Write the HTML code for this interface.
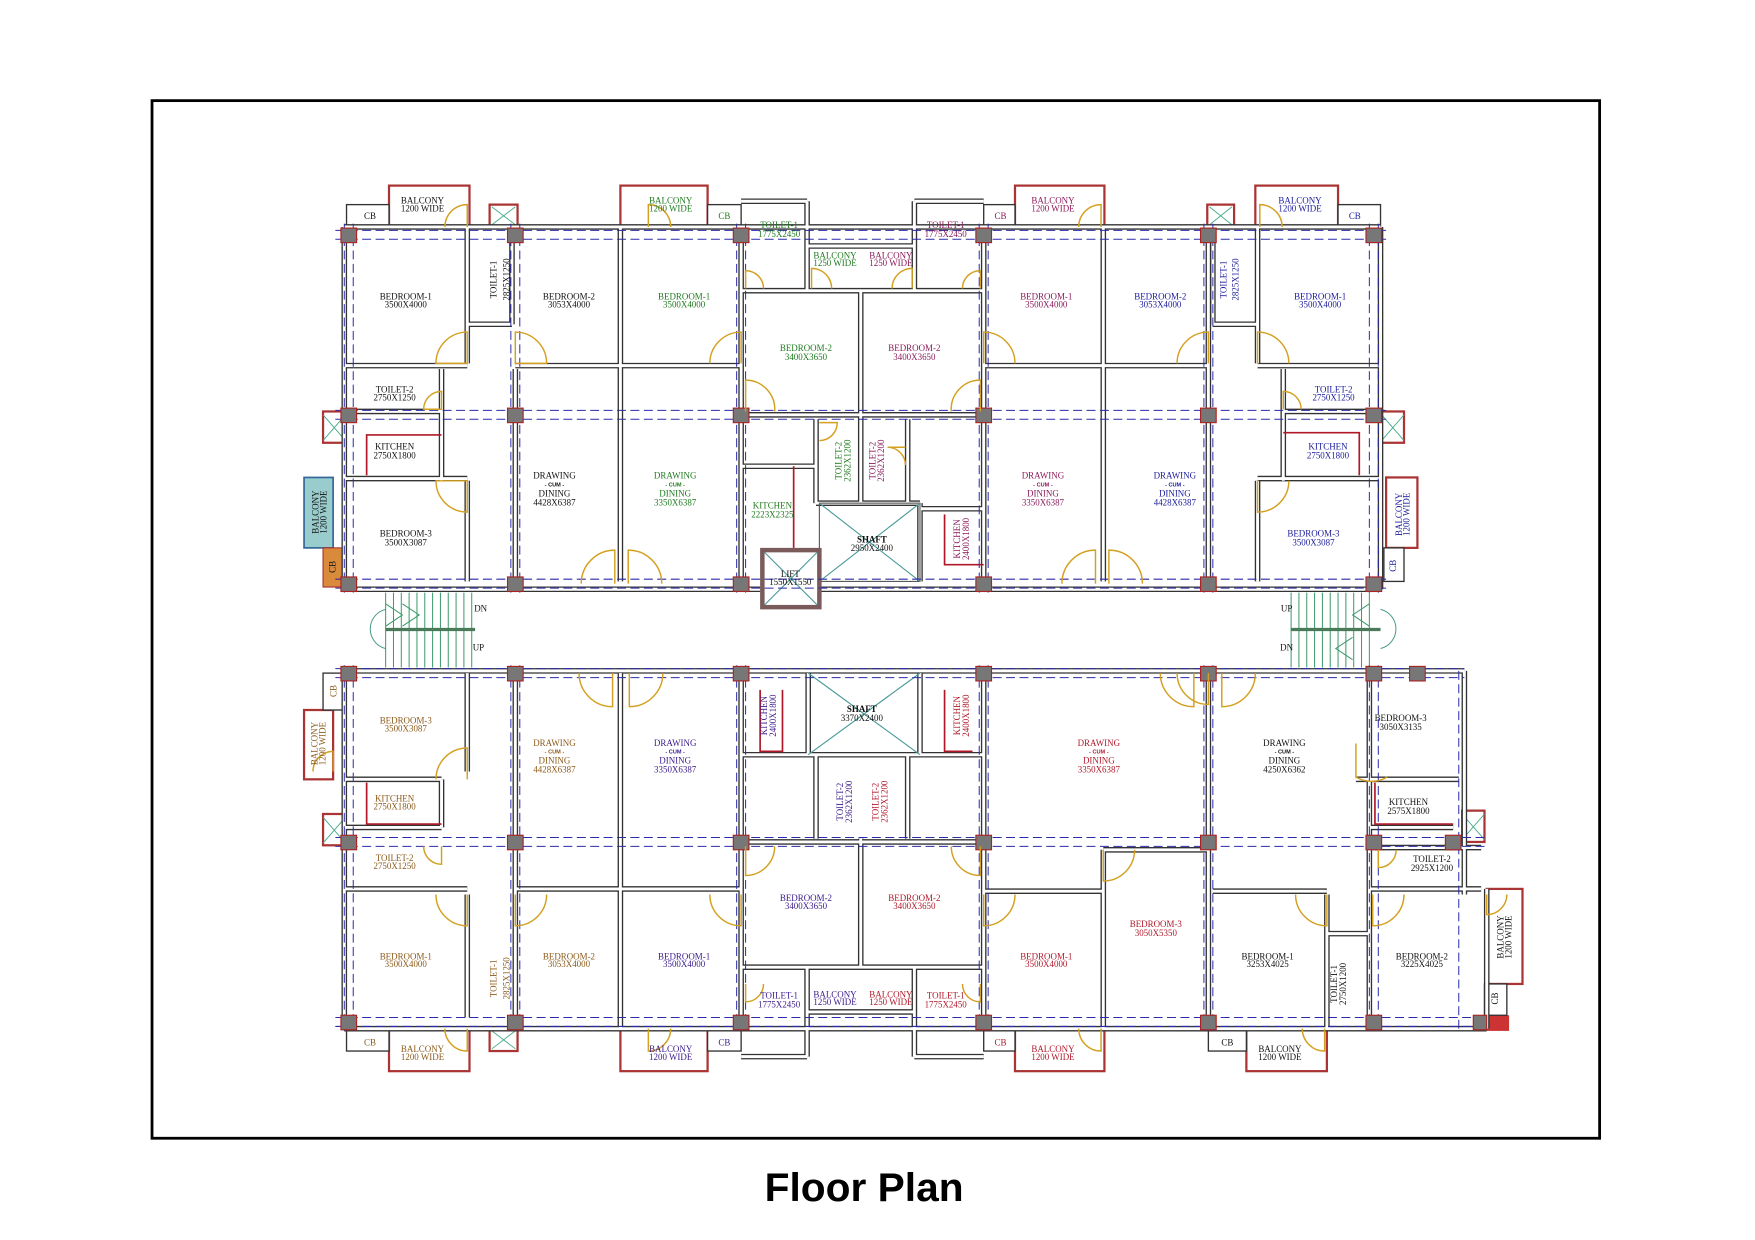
<!DOCTYPE html>
<html><head><meta charset="utf-8"><style>
html,body{margin:0;padding:0;background:#fff;width:1755px;height:1240px;overflow:hidden}
svg{display:block}
text{font-family:"Liberation Serif",serif;font-size:8px;text-anchor:middle}
.c{font-family:"Liberation Sans",sans-serif;font-size:5px;font-weight:bold}
.k{fill:#111}.g{fill:#1f7a1f}.p{fill:#8a1a5a}.b{fill:#1a1a9a}.o{fill:#8b5a1a}.v{fill:#3a1a8a}.r{fill:#b0182a}
</style></head><body>
<svg width="1755" height="1240" viewBox="0 0 1570 1109" preserveAspectRatio="none" xmlns="http://www.w3.org/2000/svg">
<defs>
<path id="w" d="M308 203H1235 M308 203V527 M1235 203V527 M308 527H680 M733 527H1235 M308 600H1310 M308 597V920 M308 920H1330 M1310 600V800 M1330 795V920
M418 203V325 M418 430V520 M458 203V290 M418 290H458 M461 330V527 M555 203V520 M663 203V527 M770 260V450 M880 203V527 M987 203V520 M1081 203V527 M1125 203V325 M1125 430V520 M1085 203V290 M1085 290H1125
M308 327H418 M461 327H663 M880 327H1081 M1125 327H1235 M308 368H395 M395 330V430 M308 428H418 M663 260H880 M722 180V260 M818 180V260 M663 180H722 M818 180H880 M722 220H818 M663 371H880 M730 375V450 M812 375V450 M730 450H823 M663 417H730 M823 450V520 M823 455H880 M1148 368H1235 M1148 330V430 M1125 428H1235
M418 602V690 M418 800V910 M461 602V920 M555 602V920 M663 602V920 M770 750V865 M880 602V920 M987 760V920 M1081 602V920 M1187 800V920 M1225 602V920 M308 697H395 M395 697V740 M308 740H395 M308 795H418 M461 795H663 M880 797H987 M987 760H1081 M1085 797H1187
M723 602V675 M823 602V675 M663 675H880 M730 675V750 M812 675V750 M663 753H880 M663 865H880 M722 865V945 M818 865V945 M722 905H818 M663 945H722 M818 945H880
M1213 697H1305 M1225 740H1300 M1230 758H1325 M1225 795H1325 M1187 835H1225"/>
</defs>
<rect x="136" y="90" width="1295" height="928" fill="none" stroke="#000" stroke-width="2.5"/>
<text x="773" y="1074" textLength="178" lengthAdjust="spacingAndGlyphs" style="font-family:'Liberation Sans',sans-serif;font-size:36px;font-weight:bold;fill:#000">Floor Plan</text>

<!-- balconies -->
<g fill="#fff" stroke="#a33" stroke-width="2">
<rect x="348" y="166" width="72" height="37"/><rect x="555" y="166" width="78" height="37"/><rect x="908" y="166" width="80" height="37"/><rect x="1123" y="166" width="74" height="37"/>
<rect x="348" y="920" width="72" height="38"/><rect x="555" y="920" width="78" height="38"/><rect x="908" y="920" width="80" height="38"/><rect x="1115" y="920" width="72" height="38"/>
<rect x="272" y="635" width="26" height="62"/><rect x="1330" y="795" width="32" height="85"/><rect x="1240" y="427" width="28" height="63"/>
<rect x="289" y="368" width="20" height="28"/><rect x="289" y="728" width="20" height="28"/><rect x="1236" y="368" width="20" height="28"/><rect x="1308" y="725" width="20" height="28"/>
<rect x="438" y="183" width="25" height="20"/><rect x="1080" y="183" width="24" height="20"/><rect x="438" y="920" width="25" height="20"/>
</g>
<rect x="272" y="427" width="26" height="63" fill="#9cc" stroke="#369" stroke-width="1.5"/>
<g stroke="#4a8" stroke-width="0.8"><path d="M289 371L309 394M309 371L289 394M289 731L309 754M309 731L289 754M1236 371L1256 394M1256 371L1236 394M1308 728L1328 751M1328 728L1308 751M440 185L461 201M461 185L440 201M1082 185L1102 201M1102 185L1082 201M440 922L461 938M461 922L440 938"/></g>
<rect x="289" y="490" width="20" height="35" fill="#d98a3a" stroke="#a33"/>
<rect x="1330" y="908" width="20" height="14" fill="#c33"/>
<g fill="#fff" stroke="#333" stroke-width="1.2">
<rect x="310" y="183" width="38" height="20"/><rect x="633" y="183" width="30" height="20"/><rect x="880" y="183" width="28" height="20"/><rect x="1197" y="183" width="38" height="20"/>
<rect x="310" y="920" width="38" height="20"/><rect x="633" y="920" width="30" height="20"/><rect x="880" y="920" width="28" height="20"/><rect x="1081" y="920" width="34" height="20"/>
<rect x="289" y="602" width="20" height="33"/><rect x="1238" y="490" width="18" height="30"/><rect x="1328" y="880" width="20" height="28"/>
</g>

<!-- walls double line -->
<use href="#w" fill="none" stroke="#333" stroke-width="5"/>
<use href="#w" fill="none" stroke="#fff" stroke-width="2.6"/>

<!-- shafts & lift -->
<rect x="733" y="450" width="90" height="70" fill="none" stroke="#555"/>
<path d="M733 450L823 520M823 450L733 520M723 602L823 675M823 602L723 675" stroke="#4a9a9a" stroke-width="1"/>
<rect x="682" y="492" width="51" height="51" fill="none" stroke="#7a5a5a" stroke-width="4"/>
<path d="M684 494L731 541M731 494L684 541" stroke="#4a9a9a"/>
<!-- kitchens red counters -->
<g fill="none" stroke="#b0182a" stroke-width="1.5">
<path d="M328 425V389H395"/><path d="M1216 425V387H1148"/><path d="M710 417V490"/><path d="M845 460V505H880"/>
<path d="M328 700V737H395"/><path d="M680 617V672H700V617"/><path d="M845 617V672H870"/><path d="M1230 700V737H1300"/>
</g>

<!-- stairs -->
<g stroke="#3a9a6a" stroke-width="0.9">
<path d="M345 530V597M352 530V597M359 530V597M366 530V597M373 530V597M380 530V597M387 530V597M394 530V597M401 530V597M408 530V597M415 530V597M422 530V597"/>
<path d="M1155 530V597M1162 530V597M1169 530V597M1176 530V597M1183 530V597M1190 530V597M1197 530V597M1204 530V597M1211 530V597M1218 530V597M1225 530V597"/>
<path d="M345 563H425M1155 563H1235" stroke-width="3" stroke="#4a7a5a"/>
<path d="M345 540L360 550L345 560M360 540L375 550L360 560M1225 540L1210 550L1225 560M1210 570L1195 580L1210 590" fill="none"/>
<path d="M345 545A18 18 0 0 0 345 580" fill="none" stroke="#4a9a8a"/>
<path d="M1235 545A18 18 0 0 1 1235 580" fill="none" stroke="#4a9a8a"/>
</g>

<!-- dashed grid -->
<g stroke="#2a2aaa" stroke-width="0.9" stroke-dasharray="8 4" fill="none">
<path d="M300 206H1240M300 214H1240M300 367H1240M300 375H1240M300 518H1240M300 526H1240M300 598H1310M300 606H1310M300 749H1330M300 757H1330M300 910H1330M300 918H1330"/>
<path d="M308 200V530M316 200V530M457 200V530M465 200V530M659 200V530M667 200V530M876 200V530M884 200V530M1077 200V530M1085 200V530M1225 200V530M1233 200V530"/>
<path d="M308 595V922M316 595V922M457 595V922M465 595V922M659 595V922M667 595V922M876 595V922M884 595V922M1077 595V922M1085 595V922M1225 595V922M1233 595V922M1305 600V920"/>
</g>

<!-- columns -->
<g fill="#777" stroke="#a22" stroke-width="1">
<rect x="305" y="204" width="14" height="13"/><rect x="454" y="204" width="14" height="13"/><rect x="656" y="204" width="14" height="13"/><rect x="873" y="204" width="14" height="13"/><rect x="1074" y="204" width="14" height="13"/><rect x="1222" y="204" width="14" height="13"/>
<rect x="305" y="365" width="14" height="13"/><rect x="454" y="365" width="14" height="13"/><rect x="656" y="365" width="14" height="13"/><rect x="873" y="365" width="14" height="13"/><rect x="1074" y="365" width="14" height="13"/><rect x="1222" y="365" width="14" height="13"/>
<rect x="305" y="516" width="14" height="13"/><rect x="454" y="516" width="14" height="13"/><rect x="656" y="516" width="14" height="13"/><rect x="873" y="516" width="14" height="13"/><rect x="1074" y="516" width="14" height="13"/><rect x="1222" y="516" width="14" height="13"/>
<rect x="305" y="596" width="14" height="13"/><rect x="454" y="596" width="14" height="13"/><rect x="656" y="596" width="14" height="13"/><rect x="873" y="596" width="14" height="13"/><rect x="1074" y="596" width="14" height="13"/><rect x="1222" y="596" width="14" height="13"/><rect x="1261" y="596" width="14" height="13"/>
<rect x="305" y="747" width="14" height="13"/><rect x="454" y="747" width="14" height="13"/><rect x="656" y="747" width="14" height="13"/><rect x="873" y="747" width="14" height="13"/><rect x="1074" y="747" width="14" height="13"/><rect x="1222" y="747" width="14" height="13"/><rect x="1293" y="747" width="14" height="13"/>
<rect x="305" y="908" width="14" height="13"/><rect x="454" y="908" width="14" height="13"/><rect x="656" y="908" width="14" height="13"/><rect x="873" y="908" width="14" height="13"/><rect x="1074" y="908" width="14" height="13"/><rect x="1222" y="908" width="14" height="13"/><rect x="1318" y="908" width="12" height="13"/>
</g>

<!-- doors -->
<g fill="none" stroke="#d4a020" stroke-width="1.3">
<path d="M418 325V297A28 28 0 0 0 390 325Z"/><path d="M461 325V297A28 28 0 0 1 489 325Z"/>
<path d="M395 366V350A16 16 0 0 0 379 366Z"/><path d="M418 430V458A28 28 0 0 1 390 430Z"/>
<path d="M550 522V492A30 30 0 0 0 520 522"/><path d="M562 522V492A30 30 0 0 1 592 522"/>
<path d="M663 325V297A28 28 0 0 0 635 325"/><path d="M667 258V242A16 16 0 0 1 683 258"/>
<path d="M667 368V340A26 26 0 0 1 693 368"/><path d="M726 258V240A18 18 0 0 1 744 258"/><path d="M816 258V240A18 18 0 0 0 798 258"/>
<path d="M877 368V340A26 26 0 0 0 851 368"/><path d="M880 325V297A28 28 0 0 1 908 325"/><path d="M877 258V242A16 16 0 0 0 861 258"/>
<path d="M980 522V492A30 30 0 0 0 950 522"/><path d="M992 522V492A30 30 0 0 1 1022 522"/>
<path d="M1081 325V297A28 28 0 0 0 1053 325"/><path d="M1125 325V297A28 28 0 0 1 1153 325"/>
<path d="M1148 366V350A16 16 0 0 1 1164 366"/><path d="M1125 430V458A28 28 0 0 0 1153 430"/>
<path d="M733 378H749A16 16 0 0 1 733 394"/><path d="M810 400H794A16 16 0 0 1 810 416"/>
<path d="M418 203V183A20 20 0 0 0 398 203"/><path d="M580 203V183A20 20 0 0 1 600 203"/><path d="M985 203V183A20 20 0 0 0 965 203"/><path d="M1127 203V183A20 20 0 0 1 1147 203"/>
<path d="M548 602V632A30 30 0 0 1 518 602"/><path d="M563 602V632A30 30 0 0 0 593 602"/>
<path d="M1068 602V632A30 30 0 0 1 1038 602"/><path d="M1093 602V632A30 30 0 0 0 1123 602"/>
<path d="M418 697V669A28 28 0 0 0 390 697"/><path d="M395 757V773A16 16 0 0 1 379 757"/>
<path d="M418 800V828A28 28 0 0 1 390 800"/><path d="M461 800V828A28 28 0 0 0 489 800"/><path d="M663 800V828A28 28 0 0 1 635 800"/>
<path d="M667 757V783A26 26 0 0 0 693 757"/><path d="M877 757V783A26 26 0 0 1 851 757"/>
<path d="M880 800V828A28 28 0 0 0 908 800"/><path d="M987 760V788A28 28 0 0 0 1015 760"/>
<path d="M1187 800V828A28 28 0 0 1 1159 800"/><path d="M1228 800V828A28 28 0 0 0 1256 800"/><path d="M1233 760V776A16 16 0 0 0 1249 760"/>
<path d="M1213 665V695A28 28 0 0 0 1241 695"/><path d="M1081 602V630A28 28 0 0 1 1053 602"/>
<path d="M418 920V940A20 20 0 0 1 398 920"/><path d="M580 920V940A20 20 0 0 0 600 920"/><path d="M985 920V940A20 20 0 0 1 965 920"/><path d="M1185 920V940A20 20 0 0 1 1165 920"/>
<path d="M667 880V896A16 16 0 0 0 683 880"/><path d="M877 880V896A16 16 0 0 1 861 880"/>
<path d="M298 690V672A18 18 0 0 0 280 690"/><path d="M1330 800V818A18 18 0 0 0 1348 800"/>
</g>

<!-- labels -->
<text class="k" x="378" y="182">BALCONY</text><text class="k" x="378" y="189">1200 WIDE</text><text class="k" x="331" y="196">CB</text>
<text class="k" transform="rotate(-90 444 250)" x="444" y="250">TOILET-1</text><text class="k" transform="rotate(-90 453 250)" x="453" y="253">2825X1250</text>
<text class="k" x="363" y="268">BEDROOM-1</text><text class="k" x="363" y="275">3500X4000</text>
<text class="k" x="509" y="268">BEDROOM-2</text><text class="k" x="509" y="275">3053X4000</text>
<text class="k" x="353" y="351">TOILET-2</text><text class="k" x="353" y="358">2750X1250</text>
<text class="k" x="353" y="402">KITCHEN</text><text class="k" x="353" y="410">2750X1800</text>
<text class="k" x="496" y="428">DRAWING</text><text class="k c" x="496" y="435">- CUM -</text><text class="k" x="496" y="444">DINING</text><text class="k" x="496" y="452">4428X6387</text>
<text class="k" x="363" y="480">BEDROOM-3</text><text class="k" x="363" y="488">3500X3087</text>
<text class="k" transform="rotate(-90 285 458)" x="285" y="458">BALCONY</text><text class="k" transform="rotate(-90 292 458)" x="292" y="458">1200 WIDE</text>
<text class="k" transform="rotate(-90 300 507)" x="300" y="507">CB</text>

<text class="g" x="600" y="182">BALCONY</text><text class="g" x="600" y="189">1200 WIDE</text><text class="g" x="648" y="196">CB</text>
<text class="g" x="612" y="268">BEDROOM-1</text><text class="g" x="612" y="275">3500X4000</text>
<text class="g" x="604" y="428">DRAWING</text><text class="g c" x="604" y="435">- CUM -</text><text class="g" x="604" y="444">DINING</text><text class="g" x="604" y="452">3350X6387</text>
<text class="g" x="697" y="204">TOILET-1</text><text class="g" x="697" y="212">1775X2450</text>
<text class="g" x="747" y="231">BALCONY</text><text class="g" x="747" y="238">1250 WIDE</text>
<text class="g" x="721" y="314">BEDROOM-2</text><text class="g" x="721" y="322">3400X3650</text>
<text class="g" transform="rotate(-90 753 412)" x="753" y="412">TOILET-2</text><text class="g" transform="rotate(-90 761 412)" x="761" y="412">2362X1200</text>
<text class="g" x="691" y="455">KITCHEN</text><text class="g" x="691" y="463">2223X2325</text>

<text class="p" x="797" y="231">BALCONY</text><text class="p" x="797" y="238">1250 WIDE</text>
<text class="p" x="846" y="204">TOILET-1</text><text class="p" x="846" y="212">1775X2450</text>
<text class="p" x="818" y="314">BEDROOM-2</text><text class="p" x="818" y="322">3400X3650</text>
<text class="p" transform="rotate(-90 783 412)" x="783" y="412">TOILET-2</text><text class="p" transform="rotate(-90 791 412)" x="791" y="412">2362X1200</text>
<text class="p" transform="rotate(-90 859 482)" x="859" y="482">KITCHEN</text><text class="p" transform="rotate(-90 867 482)" x="867" y="482">2400X1800</text>
<text class="p" x="895" y="196">CB</text><text class="p" x="942" y="182">BALCONY</text><text class="p" x="942" y="189">1200 WIDE</text>
<text class="p" x="936" y="268">BEDROOM-1</text><text class="p" x="936" y="275">3500X4000</text>
<text class="b" x="1038" y="268">BEDROOM-2</text><text class="b" x="1038" y="275">3053X4000</text>
<text class="p" x="933" y="428">DRAWING</text><text class="p c" x="933" y="435">- CUM -</text><text class="p" x="933" y="444">DINING</text><text class="p" x="933" y="452">3350X6387</text>
<text class="k" x="780" y="485" style="font-weight:bold">SHAFT</text><text class="k" x="780" y="493">2950X2400</text>
<text class="k" x="707" y="516">LIFT</text><text class="k" x="707" y="523">1550X1550</text>

<text class="b" x="1051" y="428">DRAWING</text><text class="b c" x="1051" y="435">- CUM -</text><text class="b" x="1051" y="444">DINING</text><text class="b" x="1051" y="452">4428X6387</text>
<text class="b" transform="rotate(-90 1097 250)" x="1097" y="250">TOILET-1</text><text class="b" transform="rotate(-90 1105 250)" x="1105" y="253">2825X1250</text>
<text class="b" x="1163" y="182">BALCONY</text><text class="b" x="1163" y="189">1200 WIDE</text><text class="b" x="1212" y="196">CB</text>
<text class="b" x="1181" y="268">BEDROOM-1</text><text class="b" x="1181" y="275">3500X4000</text>
<text class="b" x="1193" y="351">TOILET-2</text><text class="b" x="1193" y="358">2750X1250</text>
<text class="b" x="1188" y="402">KITCHEN</text><text class="b" x="1188" y="410">2750X1800</text>
<text class="b" x="1175" y="480">BEDROOM-3</text><text class="b" x="1175" y="488">3500X3087</text>
<text class="b" transform="rotate(-90 1254 460)" x="1254" y="460">BALCONY</text><text class="b" transform="rotate(-90 1261 460)" x="1261" y="460">1200 WIDE</text>
<text class="b" transform="rotate(-90 1249 506)" x="1249" y="506">CB</text>

<text class="k" x="430" y="547">DN</text><text class="k" x="428" y="582">UP</text><text class="k" x="1151" y="547">UP</text><text class="k" x="1151" y="582">DN</text>

<text class="o" transform="rotate(-90 301 618)" x="301" y="618">CB</text>
<text class="o" transform="rotate(-90 284 665)" x="284" y="665">BALCONY</text><text class="o" transform="rotate(-90 291 665)" x="291" y="665">1200 WIDE</text>
<text class="o" x="363" y="647">BEDROOM-3</text><text class="o" x="363" y="654">3500X3087</text>
<text class="o" x="353" y="717">KITCHEN</text><text class="o" x="353" y="724">2750X1800</text>
<text class="o" x="353" y="770">TOILET-2</text><text class="o" x="353" y="777">2750X1250</text>
<text class="o" x="363" y="858">BEDROOM-1</text><text class="o" x="363" y="865">3500X4000</text>
<text class="o" transform="rotate(-90 444 875)" x="444" y="875">TOILET-1</text><text class="o" transform="rotate(-90 453 875)" x="453" y="878">2825X1250</text>
<text class="o" x="331" y="935">CB</text><text class="o" x="378" y="941">BALCONY</text><text class="o" x="378" y="948">1200 WIDE</text>
<text class="o" x="509" y="858">BEDROOM-2</text><text class="o" x="509" y="865">3053X4000</text>
<text class="o" x="496" y="667">DRAWING</text><text class="o c" x="496" y="674">- CUM -</text><text class="o" x="496" y="683">DINING</text><text class="o" x="496" y="691">4428X6387</text>

<text class="v" x="604" y="667">DRAWING</text><text class="v c" x="604" y="674">- CUM -</text><text class="v" x="604" y="683">DINING</text><text class="v" x="604" y="691">3350X6387</text>
<text class="v" transform="rotate(-90 686 640)" x="686" y="640">KITCHEN</text><text class="v" transform="rotate(-90 694 640)" x="694" y="640">2400X1800</text>
<text class="v" transform="rotate(-90 754 717)" x="754" y="717">TOILET-2</text><text class="v" transform="rotate(-90 762 717)" x="762" y="717">2362X1200</text>
<text class="v" x="721" y="806">BEDROOM-2</text><text class="v" x="721" y="813">3400X3650</text>
<text class="v" x="612" y="858">BEDROOM-1</text><text class="v" x="612" y="865">3500X4000</text>
<text class="v" x="697" y="893">TOILET-1</text><text class="v" x="697" y="901">1775X2450</text>
<text class="v" x="747" y="892">BALCONY</text><text class="v" x="747" y="899">1250 WIDE</text>
<text class="v" x="600" y="941">BALCONY</text><text class="v" x="600" y="948">1200 WIDE</text><text class="v" x="648" y="935">CB</text>
<text class="k" x="771" y="637" style="font-weight:bold">SHAFT</text><text class="k" x="771" y="645">3370X2400</text>

<text class="r" transform="rotate(-90 859 640)" x="859" y="640">KITCHEN</text><text class="r" transform="rotate(-90 867 640)" x="867" y="640">2400X1800</text>
<text class="r" transform="rotate(-90 786 717)" x="786" y="717">TOILET-2</text><text class="r" transform="rotate(-90 794 717)" x="794" y="717">2362X1200</text>
<text class="r" x="818" y="806">BEDROOM-2</text><text class="r" x="818" y="813">3400X3650</text>
<text class="r" x="797" y="892">BALCONY</text><text class="r" x="797" y="899">1250 WIDE</text>
<text class="r" x="846" y="893">TOILET-1</text><text class="r" x="846" y="901">1775X2450</text>
<text class="r" x="983" y="667">DRAWING</text><text class="r c" x="983" y="674">- CUM -</text><text class="r" x="983" y="683">DINING</text><text class="r" x="983" y="691">3350X6387</text>
<text class="r" x="936" y="858">BEDROOM-1</text><text class="r" x="936" y="865">3500X4000</text>
<text class="r" x="1034" y="829">BEDROOM-3</text><text class="r" x="1034" y="837">3050X5350</text>
<text class="r" x="895" y="935">CB</text><text class="r" x="942" y="941">BALCONY</text><text class="r" x="942" y="948">1200 WIDE</text>

<text class="k" x="1149" y="667">DRAWING</text><text class="k c" x="1149" y="674">- CUM -</text><text class="k" x="1149" y="683">DINING</text><text class="k" x="1149" y="691">4250X6362</text>
<text class="k" x="1253" y="645">BEDROOM-3</text><text class="k" x="1253" y="653">3050X3135</text>
<text class="k" x="1260" y="720">KITCHEN</text><text class="k" x="1260" y="728">2575X1800</text>
<text class="k" x="1281" y="771">TOILET-2</text><text class="k" x="1281" y="779">2925X1200</text>
<text class="k" x="1134" y="858">BEDROOM-1</text><text class="k" x="1134" y="865">3253X4025</text>
<text class="k" transform="rotate(-90 1196 880)" x="1196" y="880">TOILET-1</text><text class="k" transform="rotate(-90 1204 880)" x="1204" y="880">2750X1200</text>
<text class="k" x="1272" y="858">BEDROOM-2</text><text class="k" x="1272" y="865">3225X4025</text>
<text class="k" transform="rotate(-90 1345 838)" x="1345" y="838">BALCONY</text><text class="k" transform="rotate(-90 1352 838)" x="1352" y="838">1200 WIDE</text>
<text class="k" transform="rotate(-90 1340 893)" x="1340" y="893">CB</text>
<text class="k" x="1098" y="935">CB</text><text class="k" x="1145" y="941">BALCONY</text><text class="k" x="1145" y="948">1200 WIDE</text>
</svg>
</body></html>
